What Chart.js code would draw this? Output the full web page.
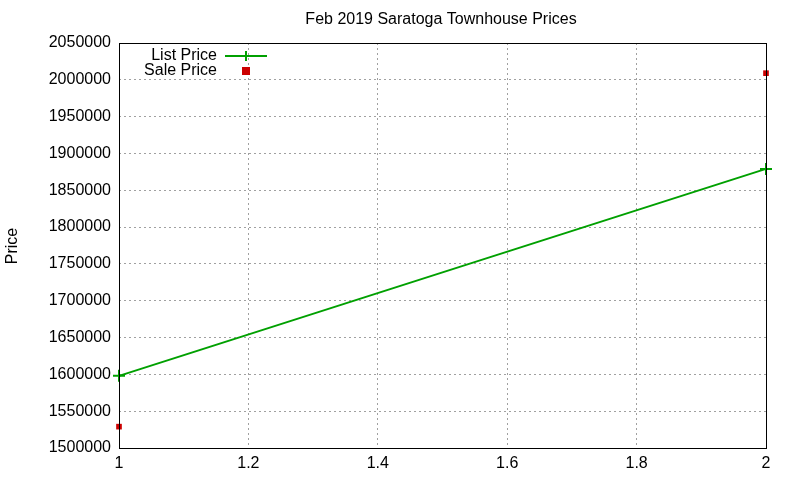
<!DOCTYPE html>
<html><head><meta charset="utf-8">
<script src="https://cdn.jsdelivr.net/npm/chart.js@4"></script>
<style>html,body{margin:0;padding:0;background:#fff}#w{width:800px;height:480px}</style>
</head><body><div id="w"><canvas id="c"></canvas></div>
<script>
const xValues = [1, 2];
const listPrice = [1598000, 1879000];
const salePrice = [1529000, 2009000];
const chartTitle = 'Feb 2019 Saratoga Townhouse Prices';
const yTitle = 'Price';
const legendLabels = ['List Price', 'Sale Price'];
const FONT = '"Liberation Sans", Arial, sans-serif';

const deco = {
  id: 'deco',
  afterDraw(chart) {
    const {ctx, chartArea: a} = chart;
    ctx.save();
    ctx.strokeStyle = '#000'; ctx.lineWidth = 1; ctx.setLineDash([]);
    ctx.strokeRect(a.left + 0.5, a.top + 0.5, a.right - a.left, a.bottom - a.top);
    ctx.fillStyle = '#000';
    ctx.font = '16px ' + FONT;
    ctx.textAlign = 'center'; ctx.textBaseline = 'middle';
    ctx.fillText(chartTitle, 441, 20);
    ctx.save(); ctx.translate(13, 246); ctx.rotate(-Math.PI / 2);
    ctx.fillText(yTitle, 0, 0); ctx.restore();
    ctx.textAlign = 'right';
    ctx.fillText(legendLabels[0], 217, 56);
    ctx.fillText(legendLabels[1], 217, 71);
    ctx.strokeStyle = '#00a000'; ctx.lineWidth = 2;
    ctx.beginPath(); ctx.moveTo(225, 56); ctx.lineTo(267, 56);
    ctx.moveTo(246, 51); ctx.lineTo(246, 61); ctx.stroke();
    ctx.fillStyle = '#cc0000';
    ctx.fillRect(242, 67, 8, 8);
    ctx.restore();
  }
};

new Chart(document.getElementById('c'), {
  type: 'line',
  data: {
    datasets: [
      { label: legendLabels[0], data: xValues.map((x, i) => ({x, y: listPrice[i]})),
        borderColor: '#00a000', backgroundColor: '#00a000', borderWidth: 2, clip: false,
        pointStyle: 'cross', pointRadius: 6, pointBorderWidth: 2, tension: 0 },
      { label: legendLabels[1], data: xValues.map((x, i) => ({x, y: salePrice[i]})),
        showLine: false, borderColor: '#cc0000', backgroundColor: '#cc0000', clip: false,
        pointStyle: 'rect', pointRadius: 4, pointBorderWidth: 0 }
    ]
  },
  options: {
    responsive: true, maintainAspectRatio: false, animation: false,
    layout: { padding: { top: 43, right: 34, left: 0, bottom: 0 } },
    plugins: { legend: { display: false }, title: { display: false }, tooltip: { enabled: false } },
    scales: {
      x: { type: 'linear', min: 1, max: 2,
        afterFit(s) { s.height = 32; },
        grid: { color: '#a0a0a0', drawTicks: false },
        border: { display: false, dash: [2, 3] },
        ticks: { stepSize: 0.2, color: '#000', font: { family: FONT, size: 16 }, padding: 6,
          callback: v => Math.round(v * 10) / 10 } },
      y: { min: 1500000, max: 2050000,
        afterFit(s) { s.width = 119; },
        grid: { color: '#a0a0a0', drawTicks: false },
        border: { display: false, dash: [2, 3] },
        ticks: { stepSize: 50000, color: '#000', font: { family: FONT, size: 16 }, padding: 8,
          callback: v => String(v) } }
    }
  },
  plugins: [deco]
});
</script></body></html>
